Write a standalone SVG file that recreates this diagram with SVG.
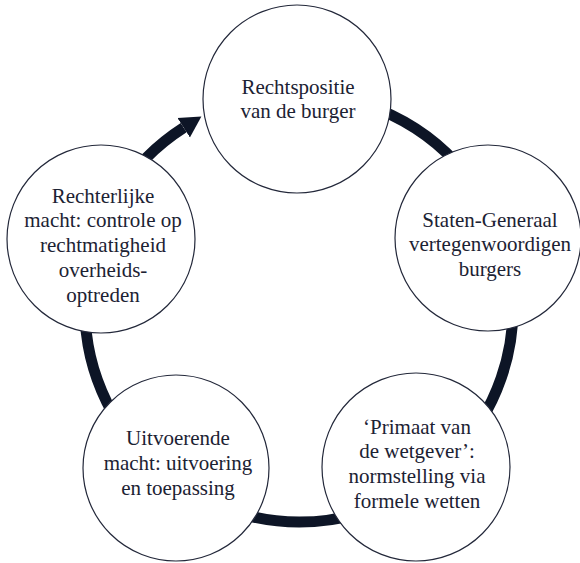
<svg xmlns="http://www.w3.org/2000/svg" width="580" height="563" viewBox="0 0 580 563">
<style>
.node{fill:#fff;stroke:#23283a;stroke-width:1.2}
.lbl{font-family:"Liberation Serif","DejaVu Serif",serif;font-size:21px;fill:#1c2233;text-anchor:middle}
.ring{fill:none;stroke:#0d1526;stroke-width:11}
</style>
<defs>
<marker id="ah" markerUnits="userSpaceOnUse" markerWidth="30" markerHeight="30" refX="0" refY="12" orient="auto" viewBox="0 0 30 24">
<path d="M0,0.5 L21,12 L0,23.5 Z" fill="#0d1526"/>
</marker>
</defs>
<rect width="580" height="563" fill="#fff"/>
<g id="connectors">
<path class="ring" d="M299,94 A214,214 0 1 1 183.7,127.7" marker-end="url(#ah)"/>
</g>
<g id="n1">
<circle class="node" cx="297" cy="99" r="94"/>
<text class="lbl" x="298" y="94">Rechtspositie</text>
<text class="lbl" x="298" y="118">van de burger</text>
</g>
<g id="n2">
<circle class="node" cx="488" cy="238" r="93"/>
<text class="lbl" x="490" y="227">Staten-Generaal</text>
<text class="lbl" x="490" y="251">vertegenwoordigen</text>
<text class="lbl" x="490" y="276">burgers</text>
</g>
<g id="n3">
<circle class="node" cx="416" cy="467" r="94"/>
<text class="lbl" x="417" y="434">‘Primaat van</text>
<text class="lbl" x="417" y="458">de wetgever’:</text>
<text class="lbl" x="417" y="483">normstelling via</text>
<text class="lbl" x="417" y="508">formele wetten</text>
</g>
<g id="n4">
<circle class="node" cx="176" cy="468" r="93"/>
<text class="lbl" x="178" y="445">Uitvoerende</text>
<text class="lbl" x="178" y="470">macht: uitvoering</text>
<text class="lbl" x="178" y="495">en toepassing</text>
</g>
<g id="n5">
<circle class="node" cx="101" cy="239" r="94"/>
<text class="lbl" x="103" y="203">Rechterlijke</text>
<text class="lbl" x="103" y="227">macht: controle op</text>
<text class="lbl" x="103" y="252">rechtmatigheid</text>
<text class="lbl" x="103" y="277">overheids-</text>
<text class="lbl" x="103" y="302">optreden</text>
</g>
</svg>
